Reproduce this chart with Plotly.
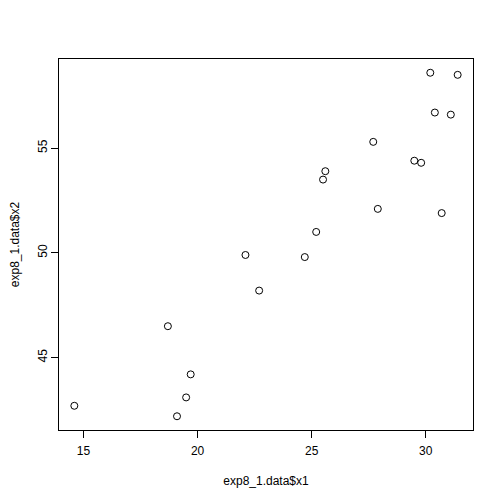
import plotly.graph_objects as go

x1 = [30.2, 31.4, 30.4, 31.1, 27.7, 29.5, 29.8, 25.6, 25.5, 27.9, 30.7, 25.2, 22.1, 24.7, 22.7, 18.7, 19.7, 19.5, 14.6, 19.1]
x2 = [58.6, 58.5, 56.7, 56.6, 55.3, 54.4, 54.3, 53.9, 53.5, 52.1, 51.9, 51.0, 49.9, 49.8, 48.2, 46.5, 44.2, 43.1, 42.7, 42.2]
x_ticks = [15, 20, 25, 30]
y_ticks = [45, 50, 55]

def pad(v):
    lo, hi = min(v), max(v)
    d = (hi - lo) * 0.04
    return [lo - d, hi + d]

font = dict(family="Liberation Sans, Arial, sans-serif", size=12, color="black")

fig = go.Figure(go.Scatter(
    x=x1, y=x2, mode="markers",
    marker=dict(symbol="circle-open", size=7, color="black", line=dict(width=1, color="black")),
    hoverinfo="skip",
))

# page body has an 8px default margin; compensate so the plot box lands at 59..473
fig.update_layout(
    width=504, height=504,
    margin=dict(l=51, r=39, t=51, b=82),
    paper_bgcolor="white", plot_bgcolor="white",
    showlegend=False,
    font=font,
)
fig.update_xaxes(
    range=pad(x1), tickvals=x_ticks, ticks="outside", ticklen=7, tickcolor="black",
    showgrid=False, zeroline=False, showline=True, linecolor="black", linewidth=1, mirror=True,
    automargin=False, ticklabelstandoff=3,
    title=dict(text="exp8_1.data$x1", font=font, standoff=19), tickfont=font,
)
fig.update_yaxes(
    range=pad(x2), tickvals=y_ticks, ticks="outside", ticklen=7, tickcolor="black",
    showgrid=False, zeroline=False, showline=True, linecolor="black", linewidth=1, mirror=True,
    tickangle=-90, automargin=False, ticklabelstandoff=-1,
    title=dict(text="exp8_1.data$x2", font=font, standoff=15), tickfont=font,
)

fig.write_html("out.html")
